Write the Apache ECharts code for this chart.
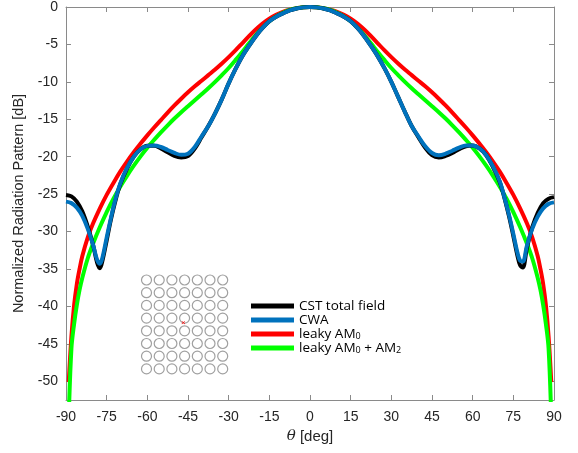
<!DOCTYPE html>
<html><head><meta charset="utf-8">
<script src="https://cdn.jsdelivr.net/npm/echarts@6/dist/echarts.min.js"></script>
<style>html,body{margin:0;padding:0;background:#fff}#c{width:578px;height:453px}</style>
</head><body><div id="c"></div>
<script>
const xTicks = [-90,-75,-60,-45,-30,-15,0,15,30,45,60,75,90];
const yTicks = [0,-5,-10,-15,-20,-25,-30,-35,-40,-45,-50];

const thetaMain = [-90,-88,-86,-84,-82,-80,-78.5,-77.5,-76.5,-75,-73.5,-72,-70,-67.5,-65,-62.5,-60,-57.5,-55,-52.5,-50,-47.5,-45,-42.5,-40,-37.5,-35,-32.5,-30,-27.5,-25,-22.5,-20,-17.5,-15,-12.5,-10,-7.5,-5,-2.5,0,
  2.5,5,7.5,10,12.5,15,17.5,20,22.5,25,27.5,30,32.5,35,37.5,40,42.5,45,47.5,50,52.5,55,57.5,60,62.5,65,67.5,70,72,73.5,75,76.5,77.5,78.5,80,82,84,86,88,90];
const cst = [-25.1,-25.3,-26.0,-27.3,-29.3,-31.8,-34.2,-34.9,-33.8,-31.2,-28.5,-26.2,-23.7,-21.6,-20.0,-19.0,-18.55,-18.55,-18.9,-19.4,-19.9,-20.1,-19.9,-18.9,-17.4,-15.9,-14.2,-12.3,-10.2,-8.3,-6.6,-5.2,-3.9,-2.8,-1.9,-1.3,-0.85,-0.45,-0.2,-0.05,0,
  -0.05,-0.2,-0.45,-0.85,-1.3,-1.9,-2.8,-3.9,-5.2,-6.6,-8.2,-10.0,-12.0,-14.0,-15.9,-17.4,-18.8,-19.8,-20.1,-19.9,-19.5,-19.0,-18.6,-18.5,-18.9,-19.8,-21.4,-23.4,-25.9,-28.1,-30.6,-33.2,-34.5,-34.8,-32.2,-29.4,-27.5,-26.2,-25.6,-25.4];
const cwa = [-26.0,-26.2,-26.8,-27.9,-29.6,-31.8,-33.8,-34.3,-33.4,-30.8,-28.3,-26.0,-23.6,-21.5,-20.0,-19.0,-18.55,-18.5,-18.7,-19.1,-19.5,-19.75,-19.6,-18.7,-17.3,-15.9,-14.2,-12.3,-10.2,-8.3,-6.6,-5.2,-3.9,-2.8,-1.9,-1.3,-0.85,-0.45,-0.2,-0.05,0,
  -0.05,-0.2,-0.45,-0.85,-1.3,-1.9,-2.8,-3.9,-5.2,-6.6,-8.2,-10.0,-12.0,-14.0,-15.9,-17.3,-18.6,-19.5,-19.8,-19.6,-19.2,-18.8,-18.5,-18.5,-18.9,-19.8,-21.3,-23.3,-25.8,-27.9,-30.3,-32.8,-33.9,-34.0,-31.9,-29.6,-28.0,-26.9,-26.3,-26.1];

const thetaLeaky = [-89,-88,-87,-86,-85,-84,-82,-80,-77.5,-75,-72.5,-70,-67.5,-65,-62.5,-60,-57.5,-55,-52.5,-50,-47.5,-45,-42.5,-40,-37.5,-35,-32.5,-30,-27.5,-25,-22.5,-20,-17.5,-15,-12.5,-10,-7.5,-5,-2.5,0,
  2.5,5,7.5,10,12.5,15,17.5,20,22.5,25,27.5,30,32.5,35,37.5,40,42.5,45,47.5,50,52.5,55,57.5,60,62.5,65,67.5,70,72.5,75,77.5,80,82,84,85,86,87,88,89];
const leakyAM0 = [-50.1,-44.0,-39.8,-37.0,-35.0,-33.3,-30.8,-28.9,-26.9,-25.1,-23.5,-22.0,-20.65,-19.4,-18.25,-17.15,-16.1,-15.1,-14.1,-13.15,-12.25,-11.4,-10.6,-9.85,-9.1,-8.35,-7.55,-6.7,-5.8,-4.85,-3.9,-3.0,-2.2,-1.55,-1.05,-0.66,-0.37,-0.16,-0.04,0,
  -0.04,-0.16,-0.37,-0.66,-1.05,-1.55,-2.2,-3.0,-3.9,-4.85,-5.8,-6.7,-7.55,-8.35,-9.1,-9.85,-10.6,-11.4,-12.25,-13.15,-14.1,-15.1,-16.1,-17.15,-18.25,-19.4,-20.65,-22.0,-23.5,-25.1,-26.9,-28.9,-30.8,-33.3,-35.0,-37.0,-39.8,-44.0,-50.1];
const leakyAM0AM2 = [-55,-45.6,-42.3,-39.8,-37.8,-36.2,-33.6,-31.6,-29.4,-27.4,-25.6,-24.0,-22.55,-21.2,-19.95,-18.8,-17.75,-16.75,-15.8,-14.9,-14.05,-13.25,-12.45,-11.65,-10.85,-10.0,-9.1,-8.15,-7.1,-6.0,-4.85,-3.75,-2.75,-1.9,-1.25,-0.76,-0.4,-0.17,-0.04,0,
  -0.04,-0.17,-0.4,-0.76,-1.25,-1.9,-2.75,-3.75,-4.85,-6.0,-7.1,-8.15,-9.1,-10.0,-10.85,-11.65,-12.45,-13.25,-14.05,-14.9,-15.8,-16.75,-17.75,-18.8,-19.95,-21.2,-22.55,-24.0,-25.6,-27.4,-29.4,-31.6,-33.6,-36.2,-37.8,-39.8,-42.3,-45.6,-55];

const names = ['CST total field','CWA','leaky AM0','leaky AM0 + AM2'];
const colors = {'CST total field':'#000000','CWA':'#0072BD','leaky AM0':'#FF0000','leaky AM0 + AM2':'#00FF00'};

function pairs(t, v){ return t.map((x,i)=>[x, v[i]]); }

const chart = echarts.init(document.getElementById('c'), null, {renderer:'canvas'});
const axisGray = '#8a8a8a';
const labelColor = '#262626';
const font = 'Liberation Sans, Arial, sans-serif';

// inset array graphic
const insetCols = 7, insetRows = 8;
const insetGraphics = [];
for (let r = 0; r < insetRows; r++) {
  for (let c = 0; c < insetCols; c++) {
    insetGraphics.push({type:'circle', shape:{cx:146.5 + c*12.7, cy:280 + r*12.7, r:5}, style:{fill:'none', stroke:'#a0a0a0', lineWidth:1.2}, silent:true});
  }
}
insetGraphics.push({type:'text', x:181, y:319, style:{text:'×', fill:'#ff0000', font:'8px sans-serif'}, silent:true});

function mkSeries(name, t, v){
  return {name:name, type:'line', data:pairs(t,v), showSymbol:false, symbol:'none', smooth:0.35,
    lineStyle:{width:4, color:colors[name]}, itemStyle:{color:colors[name]}, emphasis:{disabled:true}, clip:true};
}

chart.setOption({
  animation:false,
  grid:{left:66, right:24, top:7, bottom:53, containLabel:false},
  xAxis:[
    {type:'value', min:-90, max:90, interval:15, position:'bottom',
     axisLine:{onZero:false, lineStyle:{color:axisGray, width:1}},
     axisTick:{inside:true, length:5, lineStyle:{color:axisGray}},
     axisLabel:{color:labelColor, fontSize:14, fontFamily:font, margin:10},
     splitLine:{show:false},
     name:'{i|θ} [deg]', nameLocation:'middle', nameGap:29,
     nameTextStyle:{color:labelColor, fontSize:15, fontFamily:font, rich:{i:{fontStyle:'italic', fontFamily:'DejaVu Serif, serif', fontSize:15, color:labelColor}}}},
    {type:'value', min:-90, max:90, interval:15, position:'top',
     axisLine:{onZero:false, lineStyle:{color:axisGray, width:1}},
     axisTick:{inside:true, length:5, lineStyle:{color:axisGray}},
     axisLabel:{show:false}, splitLine:{show:false}}
  ],
  yAxis:[
    {type:'value', min:-52.5, max:0, position:'left',
     axisLine:{onZero:false, show:true, lineStyle:{color:axisGray, width:1}},
     axisTick:{show:true, inside:true, length:5, lineStyle:{color:axisGray}, customValues:yTicks},
     axisLabel:{color:labelColor, fontSize:14, fontFamily:font, margin:8, customValues:yTicks},
     splitLine:{show:false},
     name:'Normalized Radiation Pattern [dB]', nameLocation:'middle', nameGap:34,
     nameTextStyle:{color:labelColor, fontSize:14.5, fontFamily:font}},
    {type:'value', min:-52.5, max:0, position:'right',
     axisLine:{onZero:false, show:true, lineStyle:{color:axisGray, width:1}},
     axisTick:{show:true, inside:true, length:5, lineStyle:{color:axisGray}, customValues:yTicks},
     axisLabel:{show:false}, splitLine:{show:false}}
  ],
  legend:{
    data:names, orient:'vertical', left:246, top:294, itemWidth:43, itemHeight:5, itemGap:0,
    icon:'rect', selectedMode:false,
    textStyle:{color:'#000', fontSize:13.5, fontFamily:'Open Sans, sans-serif', lineHeight:14,
      rich:{t:{fontSize:13.5, fontFamily:'Open Sans, sans-serif', color:'#000', lineHeight:14},
            s:{fontSize:9, fontFamily:'Open Sans, sans-serif', color:'#000', verticalAlign:'bottom', lineHeight:14, padding:[5,0,0,0]}}},
    formatter:function(n){
      if (n==='leaky AM0') return '{t|leaky AM}{s|0}';
      if (n==='leaky AM0 + AM2') return '{t|leaky AM}{s|0}{t| + AM}{s|2}';
      return '{t|'+n+'}';
    }
  },
  graphic: insetGraphics,
  series:[
    mkSeries('leaky AM0', thetaLeaky, leakyAM0),
    mkSeries('leaky AM0 + AM2', thetaLeaky, leakyAM0AM2),
    mkSeries('CST total field', thetaMain, cst),
    mkSeries('CWA', thetaMain, cwa)
  ]
});
</script></body></html>
